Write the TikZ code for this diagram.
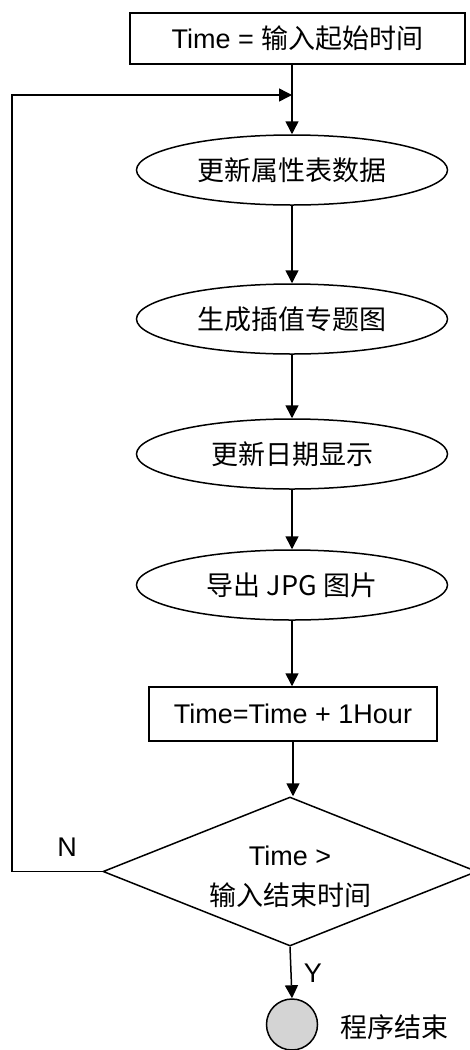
\documentclass[tikz,border=0pt]{standalone}
\usepackage{fontspec}
\setmainfont{Liberation Sans}
\newfontfamily\cjk{Noto Sans CJK SC}
\usetikzlibrary{shapes.geometric,arrows.meta}
\begin{document}
\begin{tikzpicture}[x=1pt,y=-1pt,
  txt/.style={font=\fontsize{27}{40}\selectfont},
  procbox/.style={draw, rectangle, line width=1.5pt, inner sep=0pt, txt},
  oval/.style={draw, ellipse, line width=1.5pt, minimum width=311pt, minimum height=70pt, inner sep=0pt, txt},
  decision/.style={draw, diamond, line width=1.5pt, minimum width=374pt, minimum height=149pt, inner sep=0pt, aspect=2.5, align=center, txt},
  terminal/.style={draw, circle, line width=1.5pt, fill=black!17, minimum size=51pt, inner sep=0pt},
  arr/.style={line width=1.5pt, -{Triangle[length=13pt,width=13pt]}}
]
\useasboundingbox (0,0) rectangle (470,1050);

\node[procbox, minimum width=335pt, minimum height=51pt] (start) at (297.5,38.5) {Time = {\cjk 输入起始时间}};
\node[oval] (e1) at (292,170) {\cjk 更新属性表数据};
\node[oval] (e2) at (292,319) {\cjk 生成插值专题图};
\node[oval] (e3) at (292,454) {\cjk 更新日期显示};
\node[oval] (e4) at (292,585) {\cjk 导出 JPG 图片};
\node[procbox, minimum width=288pt, minimum height=54pt] (inc) at (293,714) {Time=Time + 1Hour};
\node[decision] (dec) at (290,871.5) {\rule{0pt}{31pt}Time >\\{\cjk 输入结束时间}};
\node[terminal] (end) at (292,1024.5) {};
\node[txt, anchor=west, inner sep=0pt] (endlbl) at (340,1027) {\cjk 程序结束};
\node[txt, inner sep=0pt] (nlbl) at (67,847) {N};
\node[txt, inner sep=0pt] (ylbl) at (313,973) {Y};

\coordinate (loopcorner) at (12,95);

\draw[arr] (start.south -| e1.north) -- (e1.north);
\draw[arr] (e1.south) -- (e2.north);
\draw[arr] (e2.south) -- (e3.north);
\draw[arr] (e3.south) -- (e4.north);
\draw[arr] (e4.south) -- (e4.south |- inc.north);
\draw[arr] (inc.south) -- (inc.south |- dec.north);
\draw[arr] (dec.south) -- (end.north);
\draw[arr] (dec.west) -| (loopcorner) -- (loopcorner -| e1.north);
\end{tikzpicture}
\end{document}
